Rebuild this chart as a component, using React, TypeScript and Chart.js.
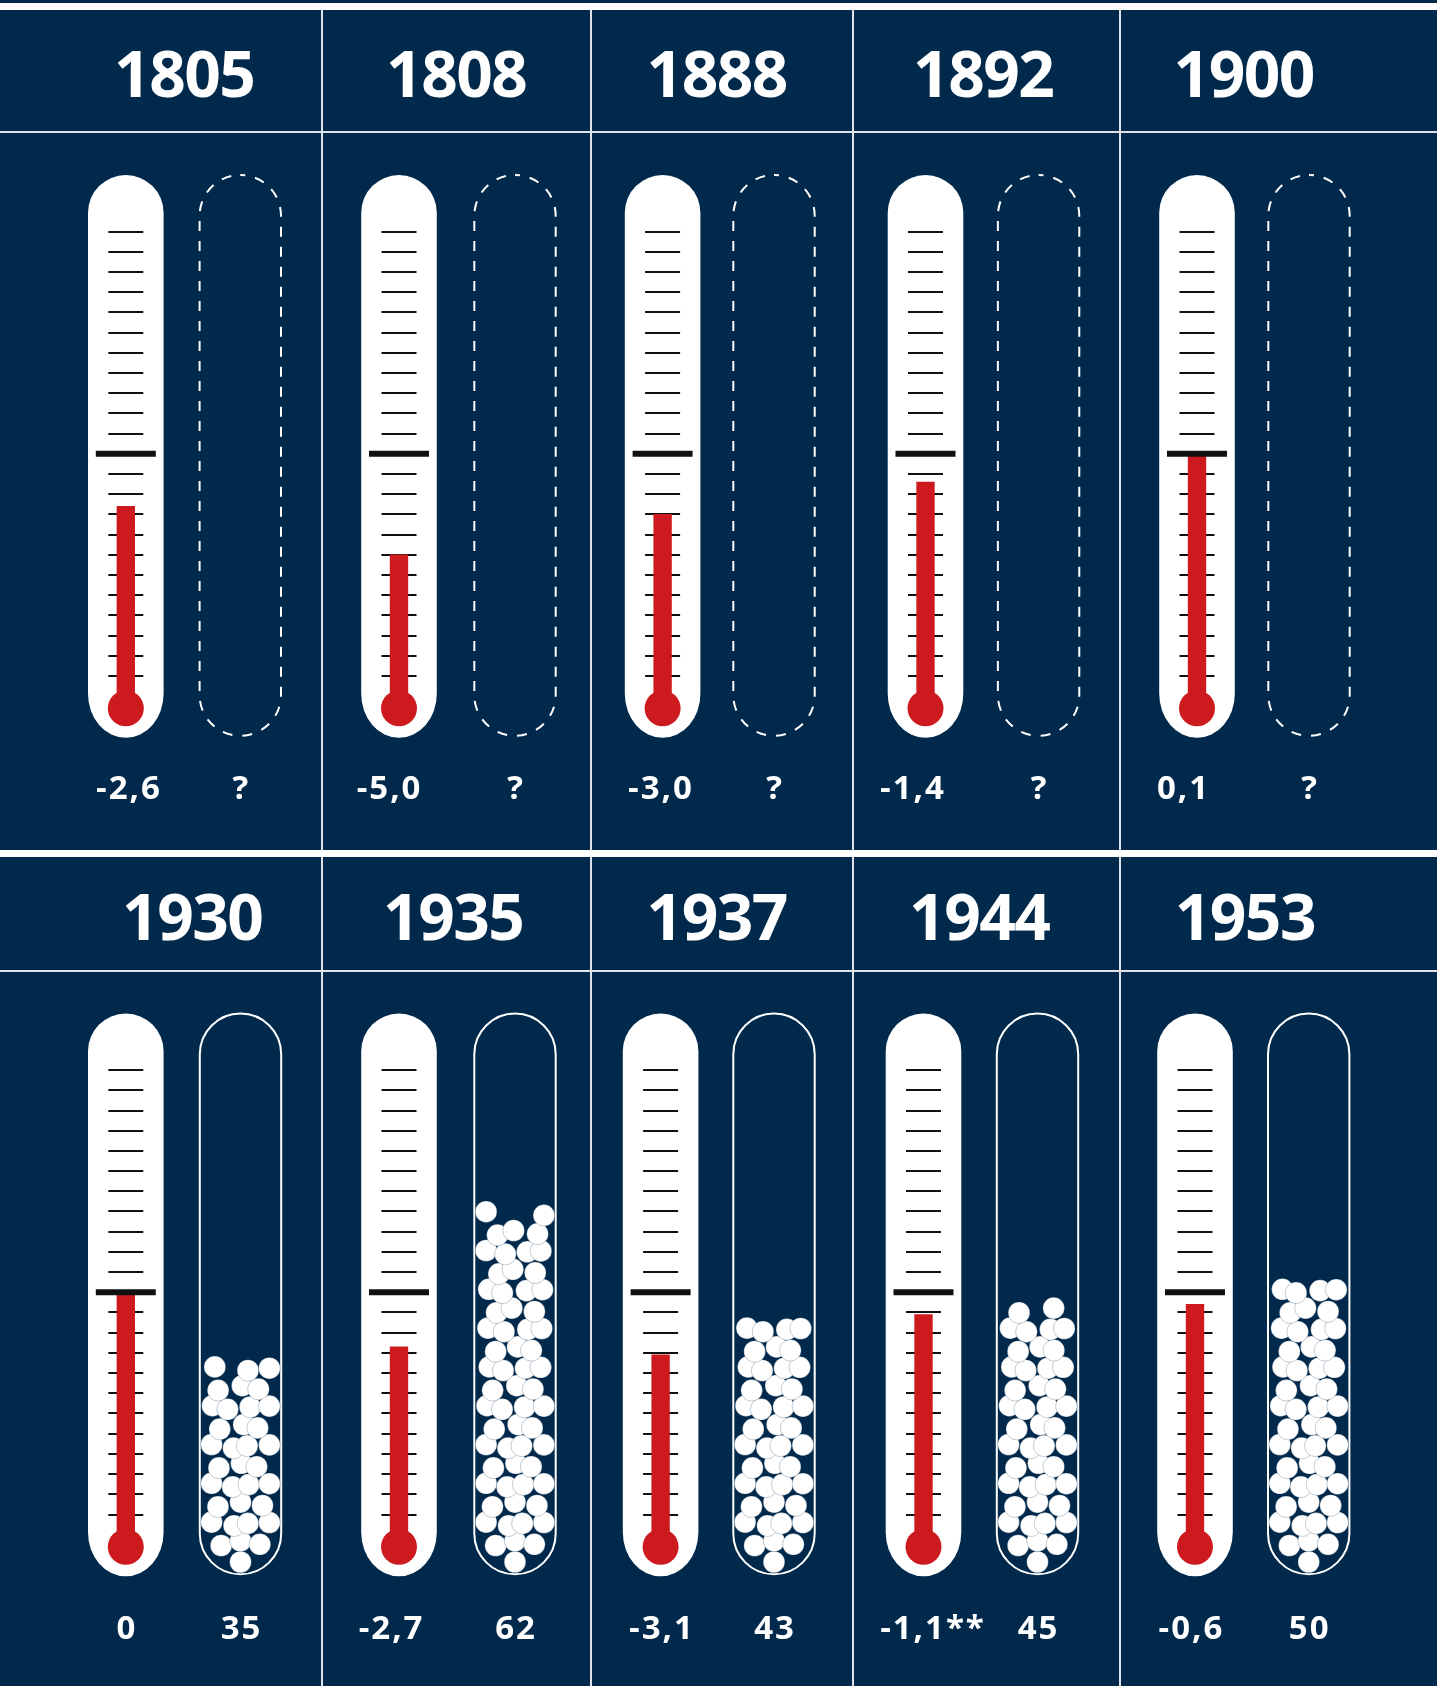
import React, { useEffect, useRef } from 'react';
import { Chart, registerables } from 'chart.js';
Chart.register(...registerables);

// ---------------- data ----------------
const years = ['1805', '1808', '1888', '1892', '1900', '1930', '1935', '1937', '1944', '1953'];
const temperatures = [-2.6, -5.0, -3.0, -1.4, 0.1, 0, -2.7, -3.1, -1.1, -0.6];
const temperatureLabels = ['-2,6', '-5,0', '-3,0', '-1,4', '0,1', '0', '-2,7', '-3,1', '-1,1**', '-0,6'];
const ballCounts: (number | null)[] = [null, null, null, null, null, 35, 62, 43, 45, 50];
const countLabels = ['?', '?', '?', '?', '?', '35', '62', '43', '45', '50'];
const markMin = -11;
const markMax = 11;
const markStep = 1;

// ---------------- layout / style ----------------
const PAGE_W = 1437;
const PAGE_H = 1686;
const NAVY = '#00294c';
const RED = '#cc1a1e';
const LINE = '#dfe3e8';
const FONT = '"Open Sans", "DejaVu Sans", sans-serif';

const COL_EDGES = [0, 322, 590, 853, 1119, 1437];
const DIVIDERS = [322, 590.5, 853, 1119.5];
const THERM_X = [
  [125.8, 399, 662.6, 925.5, 1197],
  [125.8, 399, 660.6, 923.5, 1195],
];
const TUBE_X = [
  [240.3, 515, 774, 1038.6, 1309],
  [240.5, 515, 774, 1037.5, 1308.7],
];
const BODY_TOP = [132, 971];
const BODY_BOTTOM = [850, 1686];
const ZERO_Y = [453.8, 1292.3];
const PX_PER_DEG = 20.2;
const T_HALF = 14;

const YEAR_X = [
  [185, 457, 717.5, 984, 1244.5],
  [193, 454, 717.5, 980, 1245.6],
];
const YEAR_Y = [75, 917.5];
const TEMP_LABEL_X = [
  [128, 388.6, 660, 912, 1182.5],
  [126, 390.6, 661, 932, 1190.5],
];
const VALUE_Y = [787.5, 1627.5];

// thermometer geometry (px, relative to the zero mark)
const TH_HW = 37.8;
const TH_TOP_STRAIGHT = 241;
const TH_BOTTOM_STRAIGHT = 240;
const TH_BOTTOM_RY = 44;
const BULB_DY = 254.5;
const BULB_R = 18;
const BAR_W = 17.7;

// tube geometry (px, relative to the zero mark)
const TUBE_HW = 40.7;
const TUBE_TOP = 278.8;
const TUBE_BOTTOM = 282;
const INNER_BOTTOM_B = 1.8; // tube inner bottom on the ball scale (px above plot bottom)
const BALL_R = 10.8;
const ROW_STEP = 19.4;
const JX = [0, 2.6, -3.0, 1.8, -1.4, 3.2, -2.2, 0.9, -3.2];
const JY = [1.4, -2.2, 2.4, -1.0, 1.8, -1.8, 0.5];

// ball layout in px relative to tube centre / inner bottom
function packBalls(n: number) {
  const pts: { x: number; y: number }[] = [];
  const m = TUBE_HW - 1 - BALL_R;
  const rowXs = (k: number) => {
    if (k === 0) return [0];
    if (k % 2 === 1) return [-m * 0.67, 0, m * 0.67];
    return [-m, -m / 3, m / 3, m];
  };
  let k = 0;
  while (pts.length < n) {
    const xs = rowXs(k);
    const h = k === 0 ? BALL_R + 0.5 : 30 + (k - 1) * ROW_STEP;
    const remaining = n - pts.length;
    let chosen = xs;
    if (remaining < xs.length) {
      chosen = [];
      if (remaining === 1) chosen = [xs[Math.floor((xs.length - 1) / 2)]];
      else for (let j = 0; j < remaining; j++) chosen.push(xs[Math.round((j * (xs.length - 1)) / (remaining - 1))]);
    }
    chosen.forEach((x) => {
      const i = pts.length;
      const jx = k < 2 ? 0 : JX[i % JX.length];
      const jy = k === 0 ? 0 : JY[i % JY.length];
      pts.push({ x: Math.max(-m, Math.min(m, x + jx)), y: INNER_BOTTOM_B + h + jy });
    });
    k++;
  }
  return pts;
}

function makePlugin(dashed: boolean, bulbVal: number) {
  return {
    id: 'thermometer',
    beforeDatasetsDraw(chart: any) {
      const ctx = chart.ctx as CanvasRenderingContext2D;
      const xs = chart.scales.x;
      const cx = xs.getPixelForValue(0);
      const ux = xs.getPixelForValue(1);
      const yT = chart.scales.yT;
      const z = yT.getPixelForValue(0);
      ctx.save();
      // thermometer body
      ctx.fillStyle = '#ffffff';
      ctx.beginPath();
      ctx.moveTo(cx - TH_HW, z + TH_BOTTOM_STRAIGHT);
      ctx.lineTo(cx - TH_HW, z - TH_TOP_STRAIGHT);
      ctx.arc(cx, z - TH_TOP_STRAIGHT, TH_HW, Math.PI, 0);
      ctx.lineTo(cx + TH_HW, z + TH_BOTTOM_STRAIGHT);
      ctx.ellipse(cx, z + TH_BOTTOM_STRAIGHT, TH_HW, TH_BOTTOM_RY, 0, 0, Math.PI);
      ctx.closePath();
      ctx.fill();
      // minor marks from the temperature scale's ticks
      ctx.strokeStyle = '#111111';
      ctx.lineWidth = 2;
      yT.ticks.forEach((t: any) => {
        const v = t.value;
        if (v < markMin || v > markMax || v === 0) return;
        const y = Math.round(yT.getPixelForValue(v));
        ctx.beginPath();
        ctx.moveTo(cx - 17.5, y);
        ctx.lineTo(cx + 17.5, y);
        ctx.stroke();
      });
      // tube
      const tTop = z - TUBE_TOP;
      const tBot = z + TUBE_BOTTOM;
      ctx.strokeStyle = '#ffffff';
      ctx.lineWidth = 2;
      ctx.setLineDash(dashed ? [10, 10] : []);
      ctx.lineDashOffset = 5;
      ctx.beginPath();
      ctx.moveTo(ux, tTop);
      ctx.arc(ux, tTop + TUBE_HW, TUBE_HW, -Math.PI / 2, 0);
      ctx.lineTo(ux + TUBE_HW, tBot - TUBE_HW);
      ctx.arc(ux, tBot - TUBE_HW, TUBE_HW, 0, Math.PI);
      ctx.lineTo(ux - TUBE_HW, tTop + TUBE_HW);
      ctx.arc(ux, tTop + TUBE_HW, TUBE_HW, Math.PI, Math.PI * 1.5);
      ctx.stroke();
      ctx.restore();
    },
    afterDatasetsDraw(chart: any) {
      const ctx = chart.ctx as CanvasRenderingContext2D;
      const cx = chart.scales.x.getPixelForValue(0);
      const yT = chart.scales.yT;
      ctx.save();
      const y0 = yT.getPixelForValue(0);
      ctx.strokeStyle = '#111111';
      ctx.lineWidth = 6;
      ctx.beginPath();
      ctx.moveTo(cx - 30, y0);
      ctx.lineTo(cx + 30, y0);
      ctx.stroke();
      ctx.fillStyle = RED;
      ctx.beginPath();
      ctx.arc(cx, yT.getPixelForValue(bulbVal), BULB_R, 0, Math.PI * 2);
      ctx.fill();
      ctx.restore();
    },
  };
}

function Panel({ idx }: { idx: number }) {
  const ref = useRef<HTMLCanvasElement>(null);
  const row = Math.floor(idx / 5);
  const col = idx % 5;
  const left = COL_EDGES[col];
  const w = COL_EDGES[col + 1] - left;
  const top = BODY_TOP[row];
  const h = BODY_BOTTOM[row] - top;

  useEffect(() => {
    const canvas = ref.current;
    if (!canvas) return;
    const tx = THERM_X[row][col];
    const ux = TUBE_X[row][col];
    const d = ux - tx;
    const z = ZERO_Y[row];
    const halfPx = T_HALF * PX_PER_DEG;
    const padding = {
      left: tx - d / 2 - left,
      right: left + w - (ux + d / 2),
      top: z - halfPx - top,
      bottom: top + h - (z + halfPx),
    };
    const bulbVal = -BULB_DY / PX_PER_DEG;
    const count = ballCounts[idx];
    // x axis: 0 = thermometer, 1 = tube; ball offsets converted from px
    const balls = count == null ? [] : packBalls(count).map((p) => ({ x: 1 + p.x / d, y: p.y }));
    const chart = new Chart(canvas, {
      type: 'bar',
      data: {
        datasets: [
          {
            type: 'bar',
            data: [{ x: 0, y: [bulbVal, temperatures[idx]] }] as any,
            backgroundColor: RED,
            borderWidth: 0,
            barThickness: BAR_W,
            grouped: false,
            yAxisID: 'yT',
            xAxisID: 'x',
          } as any,
          {
            type: 'scatter',
            data: balls,
            xAxisID: 'x',
            yAxisID: 'yB',
            pointRadius: BALL_R,
            pointHoverRadius: BALL_R,
            pointBackgroundColor: '#ffffff',
            pointBorderColor: 'rgba(0,41,76,0.3)',
            pointBorderWidth: 0.8,
            showLine: false,
          } as any,
        ],
      },
      options: {
        animation: false,
        responsive: false,
        events: [],
        layout: { padding },
        plugins: { legend: { display: false }, tooltip: { enabled: false } },
        scales: {
          x: { type: 'linear', display: false, offset: false, bounds: 'data', min: -0.5, max: 1.5, grid: { offset: false } },
          yT: { type: 'linear', display: false, bounds: 'data', min: -T_HALF, max: T_HALF, ticks: { stepSize: markStep } },
          yB: { type: 'linear', display: false, bounds: 'data', min: 0, max: 2 * halfPx },
        },
      } as any,
      plugins: [makePlugin(row === 0, bulbVal)],
    });
    return () => chart.destroy();
  }, [idx]);

  return <canvas ref={ref} width={w} height={h} style={{ position: 'absolute', left, top, width: w, height: h }} />;
}

function Label({ text, cx, cy, size, ls, weight }: { text: string; cx: number; cy: number; size: number; ls: number; weight: number }) {
  return (
    <div
      style={{
        position: 'absolute',
        left: cx - 200,
        width: 400,
        top: cy - 0.531 * size,
        height: size,
        lineHeight: size + 'px',
        fontSize: size,
        fontWeight: weight,
        color: '#ffffff',
        textAlign: 'center',
        letterSpacing: ls,
        paddingLeft: ls > 0 ? ls : 0,
        paddingRight: ls < 0 ? -ls : 0,
        boxSizing: 'border-box',
        whiteSpace: 'nowrap',
        fontFamily: FONT,
      }}
    >
      {text}
    </div>
  );
}

export default function App() {
  useEffect(() => {
    document.body.style.margin = '0';
    document.body.style.background = NAVY;
  }, []);

  const rect = (key: string, l: number, t: number, wd: number, ht: number, c: string) => (
    <div key={key} style={{ position: 'absolute', left: l, top: t, width: wd, height: ht, background: c }} />
  );

  return (
    <div style={{ position: 'relative', width: PAGE_W, height: PAGE_H, background: NAVY, overflow: 'hidden', fontFamily: FONT }}>
      {years.map((_, i) => (
        <Panel key={'p' + i} idx={i} />
      ))}
      {rect('band1', 0, 3, PAGE_W, 7, '#ffffff')}
      {rect('band2', 0, 850, PAGE_W, 7, '#ffffff')}
      {rect('h1', 0, 131, PAGE_W, 2, LINE)}
      {rect('h2', 0, 970, PAGE_W, 2, LINE)}
      {DIVIDERS.map((x, i) => rect('d1' + i, x - 1, 10, 2, 840, LINE))}
      {DIVIDERS.map((x, i) => rect('d2' + i, x - 1, 857, 2, PAGE_H - 857, LINE))}
      {years.map((y, i) => {
        const row = Math.floor(i / 5);
        const col = i % 5;
        return <Label key={'y' + i} text={y} cx={YEAR_X[row][col]} cy={YEAR_Y[row]} size={64} ls={-1.5} weight={700} />;
      })}
      {temperatureLabels.map((t, i) => {
        const row = Math.floor(i / 5);
        const col = i % 5;
        return <Label key={'t' + i} text={t} cx={TEMP_LABEL_X[row][col]} cy={VALUE_Y[row]} size={33} ls={2} weight={700} />;
      })}
      {countLabels.map((t, i) => {
        const row = Math.floor(i / 5);
        const col = i % 5;
        return <Label key={'c' + i} text={t} cx={TUBE_X[row][col]} cy={VALUE_Y[row]} size={33} ls={2} weight={700} />;
      })}
    </div>
  );
}
